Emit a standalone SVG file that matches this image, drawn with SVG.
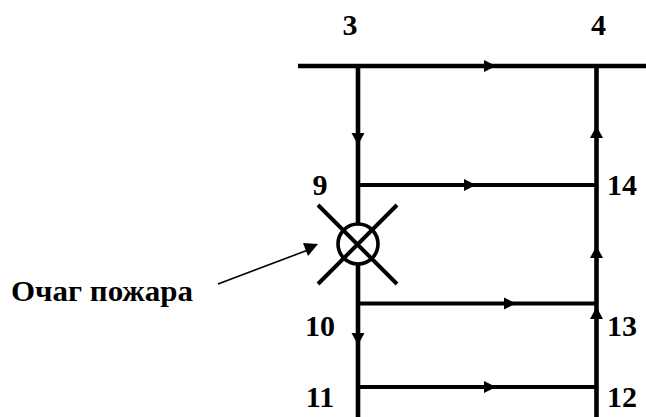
<svg xmlns="http://www.w3.org/2000/svg" width="646" height="417" viewBox="0 0 646 417">
<style>
.t{font-family:"Liberation Serif","Times New Roman",serif;font-weight:bold;font-size:30px;fill:#000}
.m{text-anchor:middle}
.p{stroke:#000;stroke-width:4.6;fill:none}
.b{stroke:#000;stroke-width:4.2;fill:none}
.h{fill:#000;stroke:none}
.x{stroke:#000;stroke-width:4;fill:none}
.c{stroke:#000;stroke-width:3.6;fill:#fff}
</style>
<rect width="646" height="417" fill="#fff"/>
<g id="connectors">
<path class="p" d="M298 66H646M358 66V417M596.500 66V417"/>
<path class="b" d="M358 185H597M358 303.500H597M358 387H597"/>
<path class="h" d="M484 60L496 66L484 72Z"/>
<path class="h" d="M464 179L476 185L464 191Z"/>
<path class="h" d="M504 297.500L516 303.500L504 309.500Z"/>
<path class="h" d="M484 381L496 387L484 393Z"/>
<path class="h" d="M351.500 133L364.500 133L358 145Z"/>
<path class="h" d="M351.500 333L364.500 333L358 345Z"/>
<path class="h" d="M590 138L603 138L596.500 126Z"/>
<path class="h" d="M590 258L603 258L596.500 246Z"/>
<path class="h" d="M590 319L603 319L596.500 307Z"/>
<path d="M218 284L308 250" stroke="#000" stroke-width="1.600" fill="none"/>
<path class="h" d="M318 244L303 243L308 256Z"/>
</g>
<g id="fire">
<circle class="c" cx="358" cy="244" r="20"/>
<path class="x" d="M318 205L397 284M397 205L318 284"/>
</g>
<g id="n3"><text class="t m" x="350" y="35">3</text></g>
<g id="n4"><text class="t m" x="598.500" y="35">4</text></g>
<g id="n9"><text class="t m" x="320" y="195">9</text></g>
<g id="n14"><text class="t m" x="622" y="195">14</text></g>
<g id="n10"><text class="t m" x="320" y="336">10</text></g>
<g id="n13"><text class="t m" x="622" y="336">13</text></g>
<g id="n11"><text class="t m" x="320" y="407">11</text></g>
<g id="n12"><text class="t m" x="622" y="407">12</text></g>
<g id="label"><text class="t" x="11" y="301" textLength="182" lengthAdjust="spacingAndGlyphs">Очаг пожара</text></g>
</svg>
